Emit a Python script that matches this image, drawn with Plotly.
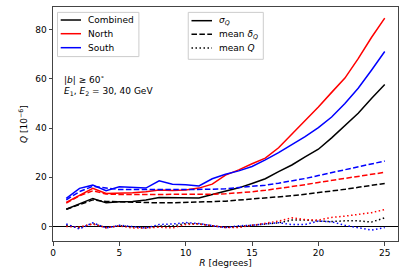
import plotly.graph_objects as go

R = list(range(1, 26))

sigma_comb = [7.0, 9.2, 11.4, 9.6, 10.1, 10.2, 10.8, 11.8, 11.8, 11.7, 11.6, 13.0, 14.3, 15.7, 17.5, 19.4, 22.3, 25.0, 28.3, 31.4, 36.0, 41.0, 46.0, 52.0, 57.7]
sigma_north = [9.8, 12.7, 15.5, 13.4, 13.4, 13.7, 14.1, 14.8, 14.6, 14.8, 15.6, 17.2, 20.9, 23.0, 25.5, 27.8, 32.0, 37.5, 43.0, 48.6, 54.5, 60.3, 68.2, 76.8, 84.7]
sigma_south = [11.4, 15.5, 16.8, 14.5, 16.1, 15.9, 15.6, 18.6, 17.2, 17.0, 16.5, 19.4, 21.2, 22.6, 24.4, 27.1, 30.0, 33.3, 36.5, 40.2, 44.5, 50.0, 56.2, 63.5, 71.1]

delta_comb = [7.0, 9.0, 10.8, 10.2, 10.0, 9.8, 9.7, 9.6, 9.6, 9.7, 9.9, 10.1, 10.3, 10.7, 11.1, 11.5, 12.0, 12.5, 13.1, 13.7, 14.4, 15.1, 15.9, 16.7, 17.5]
delta_north = [9.5, 12.5, 14.5, 13.2, 13.0, 13.0, 12.9, 12.9, 12.9, 13.0, 13.0, 13.1, 13.3, 13.6, 14.1, 14.7, 15.4, 16.2, 17.0, 17.9, 18.7, 19.5, 20.4, 21.2, 22.0]
delta_south = [10.8, 14.2, 16.3, 15.5, 15.0, 15.0, 15.0, 14.8, 14.8, 14.8, 14.9, 15.1, 15.3, 15.7, 16.2, 16.8, 17.6, 18.5, 19.5, 20.7, 21.9, 23.1, 24.3, 25.5, 26.6]

meanq_comb = [0.5, -0.5, 1.2, -0.5, 0.3, -0.3, -0.6, 0.2, 0.2, 1.2, 1.1, 0.3, -0.4, 0.0, 0.5, 1.1, 1.5, 2.6, 2.6, 2.2, 2.0, 2.3, 2.3, 1.8, 3.5]
meanq_north = [0.0, -0.2, 1.0, -0.5, 0.2, -0.6, -0.6, -0.3, -0.6, 0.8, 1.0, 0.3, -0.4, -0.4, 0.5, 1.2, 2.2, 3.5, 2.8, 2.6, 3.7, 4.2, 4.9, 5.6, 6.9]
meanq_south = [1.0, -1.0, 1.5, -0.6, 0.5, 0.0, -0.6, 0.8, 1.0, 1.6, 1.2, 0.3, -0.4, 0.3, 0.5, 1.1, 1.5, 0.8, 0.8, 2.2, 1.9, 0.5, -0.4, -1.5, -0.4]

region_names = ["Combined", "North", "South"]
style_names = ["<i>σ</i><sub><i>Q</i></sub>", "mean <i>δ</i><sub><i>Q</i></sub>", "mean <i>Q</i>"]
x_ticks = [0, 5, 10, 15, 20, 25]
y_ticks = [0, 20, 40, 60, 80]

FONT = "DejaVu Sans"
FS = 9
DASH = "5.5px,2.4px"
DOT = "1.5px,2.5px"

colors = ["#000000", "#ff0000", "#0000ff"]
sig = [sigma_comb, sigma_north, sigma_south]
dlt = [delta_comb, delta_north, delta_south]
mq = [meanq_comb, meanq_north, meanq_south]

fig = go.Figure()
for i in range(3):
    c = colors[i]
    fig.add_trace(go.Scatter(x=R, y=sig[i], mode="lines", line=dict(color=c, width=1.5),
                             name=region_names[i], showlegend=False, hoverinfo="skip"))
    fig.add_trace(go.Scatter(x=R, y=dlt[i], mode="lines", line=dict(color=c, width=1.5, dash=DASH),
                             showlegend=False, hoverinfo="skip"))
    fig.add_trace(go.Scatter(x=R, y=mq[i], mode="lines", line=dict(color=c, width=1.5, dash=DOT),
                             showlegend=False, hoverinfo="skip"))

# --- legends drawn as boxes in paper space (compact, matplotlib-like spacing) ---
shapes = []
annotations = []
BORDER = "#cccccc"

def legend_box(x0, x1, y0, y1):
    shapes.append(dict(type="rect", xref="paper", yref="paper", x0=x0, x1=x1, y0=y0, y1=y1,
                       line=dict(color=BORDER, width=1), fillcolor="rgba(255,255,255,0.8)", layer="above"))

def legend_item(lx0, lx1, y, tx, text, color, dash):
    shapes.append(dict(type="line", xref="paper", yref="paper", x0=lx0, x1=lx1, y0=y, y1=y,
                       line=dict(color=color, width=1.5, dash=dash), layer="above"))
    annotations.append(dict(xref="paper", yref="paper", x=tx, y=y, xanchor="left", yanchor="middle",
                            showarrow=False, text=text, font=dict(family=FONT, size=FS, color="black")))

legend_rows = [0.9444, 0.8859, 0.8261]
legend_box(0.013, 0.249, 0.788, 0.977)
for i in range(3):
    legend_item(0.0223, 0.0812, legend_rows[i], 0.097, region_names[i], colors[i], "solid")

legend_box(0.392, 0.6096, 0.7765, 0.977)
for name, d, yy in zip(style_names, ["solid", DASH, DOT], [0.9415, 0.8833, 0.8248]):
    legend_item(0.4014, 0.4609, yy, 0.475, name, "black", d)

annotations.append(dict(xref="paper", yref="paper", x=0.027, y=0.6675, xanchor="left", yanchor="middle",
                        showarrow=False, align="left",
                        text="|<i>b</i>| ≥ 60<sup>∘</sup><br><i>E</i><sub>1</sub>, <i>E</i><sub>2</sub> = 30, 40 GeV",
                        font=dict(family=FONT, size=FS, color="black")))

axis_common = dict(showline=True, mirror=True, linecolor="#444", linewidth=1,
                   ticks="outside", ticklen=3.5, tickcolor="#444", tickwidth=1, automargin=False,
                   showgrid=False, tickfont=dict(family=FONT, size=FS, color="black"))

fig.update_layout(
    width=407, height=271,
    margin=dict(l=53, r=9, t=7, b=30),
    paper_bgcolor="white", plot_bgcolor="white",
    font=dict(family=FONT, size=FS, color="black"),
    showlegend=False,
    xaxis=dict(range=[0, 26], tickvals=x_ticks, zeroline=False,
               title=dict(text="<i>R</i> [degrees]", font=dict(family=FONT, size=FS), standoff=0),
               **axis_common),
    yaxis=dict(range=[-5.9, 89.2], tickvals=y_ticks, zeroline=True, zerolinecolor="black",
               zerolinewidth=1,
               title=dict(text="<i>Q</i> [10<sup>−6</sup>]", font=dict(family=FONT, size=FS), standoff=6),
               **axis_common),
    shapes=shapes,
    annotations=annotations,
)

fig.write_html("out.html", config={"displayModeBar": False, "staticPlot": True},
               post_script="document.body.style.margin='0px';document.body.style.padding='0px';")
